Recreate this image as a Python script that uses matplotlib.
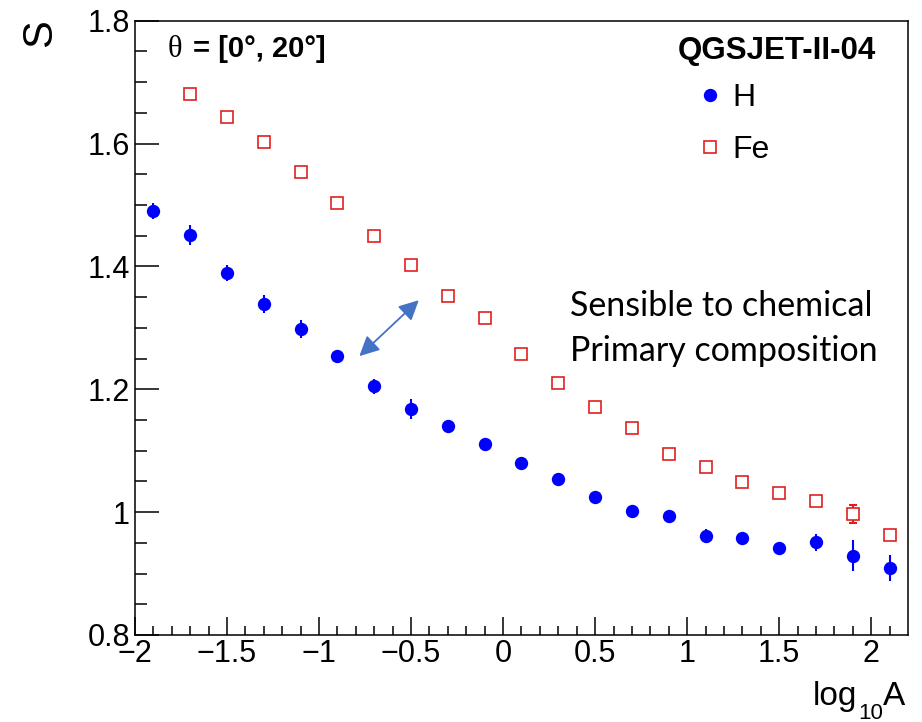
import matplotlib
matplotlib.use("Agg")
import matplotlib.pyplot as plt
from matplotlib.lines import Line2D

plt.rcParams['font.family'] = ['Liberation Sans', 'DejaVu Sans']

# S versus log10(A), QGSJET-II-04, zenith 0-20 deg
x_h = [-1.9, -1.7, -1.5, -1.3, -1.1, -0.9, -0.7, -0.5, -0.3, -0.1, 0.1,
       0.3, 0.5, 0.7, 0.9, 1.1, 1.3, 1.5, 1.7, 1.9, 2.1]
s_h = [1.491, 1.451, 1.389, 1.339, 1.298, 1.254, 1.205, 1.168, 1.140, 1.111, 1.080,
       1.054, 1.025, 1.002, 0.994, 0.961, 0.958, 0.941, 0.951, 0.929, 0.909]
err_h = [0.013, 0.016, 0.013, 0.015, 0.014, 0.010, 0.012, 0.016, 0.005, 0.005, 0.004,
         0.005, 0.005, 0.005, 0.005, 0.012, 0.006, 0.006, 0.014, 0.025, 0.021]

x_fe = [-1.7, -1.5, -1.3, -1.1, -0.9, -0.7, -0.5, -0.3, -0.1, 0.1,
        0.3, 0.5, 0.7, 0.9, 1.1, 1.3, 1.5, 1.7, 1.9, 2.1]
s_fe = [1.681, 1.644, 1.603, 1.553, 1.503, 1.450, 1.403, 1.352, 1.316, 1.257,
        1.210, 1.171, 1.137, 1.094, 1.074, 1.049, 1.031, 1.018, 0.997, 0.962]
err_fe = [0.005, 0.005, 0.008, 0.005, 0.005, 0.005, 0.005, 0.005, 0.005, 0.005,
          0.005, 0.008, 0.005, 0.005, 0.005, 0.005, 0.005, 0.005, 0.014, 0.005]

x_ticks = [-2, -1.5, -1, -0.5, 0, 0.5, 1, 1.5, 2]
x_ticklabels = ['\u22122', '\u22121.5', '\u22121', '\u22120.5', '0', '0.5', '1', '1.5', '2']
y_ticks = [0.8, 1.0, 1.2, 1.4, 1.6, 1.8]
y_ticklabels = ['0.8', '1', '1.2', '1.4', '1.6', '1.8']

blue = '#0000ff'
red = '#e02020'

fig = plt.figure(figsize=(9.22, 7.22), dpi=100)
ax = fig.add_axes([0.1464, 0.1205, 0.8384, 0.8508])

ax.errorbar(x_h, s_h, yerr=err_h, fmt='o', color=blue, ms=9.6, mew=0,
            elinewidth=1.5, capsize=3.2, capthick=1.5, zorder=3)
ax.errorbar(x_fe, s_fe, yerr=err_fe, fmt='none', ecolor=red,
            elinewidth=1.5, capsize=3.2, capthick=1.5, zorder=3)
ax.plot(x_fe, s_fe, 's', ms=8.4, mfc='white', mec=red, mew=1.2, ls='none', zorder=4)

ax.set_xlim(-2, 2.2)
ax.set_ylim(0.8, 1.8)
ax.set_xticks(x_ticks)
ax.set_xticklabels(x_ticklabels)
ax.set_yticks(y_ticks)
ax.set_yticklabels(y_ticklabels)
ax.set_xticks([v / 10 for v in range(-20, 22)], minor=True)
ax.set_yticks([0.8 + 0.05 * i for i in range(21)], minor=True)

ax.tick_params(axis='both', which='both', direction='in', top=False, right=False,
               width=1.1, labelsize=22)
ax.tick_params(axis='x', which='major', length=12.7, pad=3)
ax.tick_params(axis='x', which='minor', length=6.5)
ax.tick_params(axis='y', which='major', length=17, pad=3.5)
ax.tick_params(axis='y', which='minor', length=8.6)
for sp in ax.spines.values():
    sp.set_linewidth(1.1)

# arrow between the two compositions
ax.annotate('', xy=(-0.781, 1.254), xytext=(-0.458, 1.345),
            arrowprops=dict(arrowstyle='<|-|>', color='#4472C4', lw=1.3,
                            mutation_scale=30, shrinkA=0, shrinkB=0))

def px(x, y):
    return x / 922, 1 - y / 722

fig.text(*px(40, 33), 'S', rotation=90, fontsize=30, ha='center', va='center')
# axis title log10A, subscript set low as in ROOT
fig.text(*px(813, 705), 'log', fontsize=24, va='baseline')
fig.text(*px(858, 719), '10', fontsize=16, va='baseline')
fig.text(*px(883, 705), 'A', fontsize=24, va='baseline')

fig.text(*px(168, 57), '\u03b8', fontsize=22, family='Liberation Serif', va='baseline')
fig.text(*px(193, 57), '= [0\u00b0, 20\u00b0]', fontsize=21, weight='bold', va='baseline')
fig.text(*px(678, 59), 'QGSJET-II-04', fontsize=22.5, weight='bold', va='baseline')

fig.text(*px(570, 316), 'Sensible to chemical', fontsize=24.5, family='Lato', va='baseline')
fig.text(*px(570, 361), 'Primary composition', fontsize=24.5, family='Lato', va='baseline')

handles = [Line2D([], [], marker='o', ls='none', color=blue, ms=9.6, mew=0),
           Line2D([], [], marker='s', ls='none', mfc='white', mec=red, ms=8.4, mew=1.2)]
ax.legend(handles, ['H', 'Fe'], loc='upper left', bbox_to_anchor=px(694, 83),
          bbox_transform=fig.transFigure, frameon=False, fontsize=23,
          borderpad=0, borderaxespad=0, handlelength=1.0, handletextpad=0.19,
          labelspacing=0.69)

fig.savefig('out.png', dpi=100)
